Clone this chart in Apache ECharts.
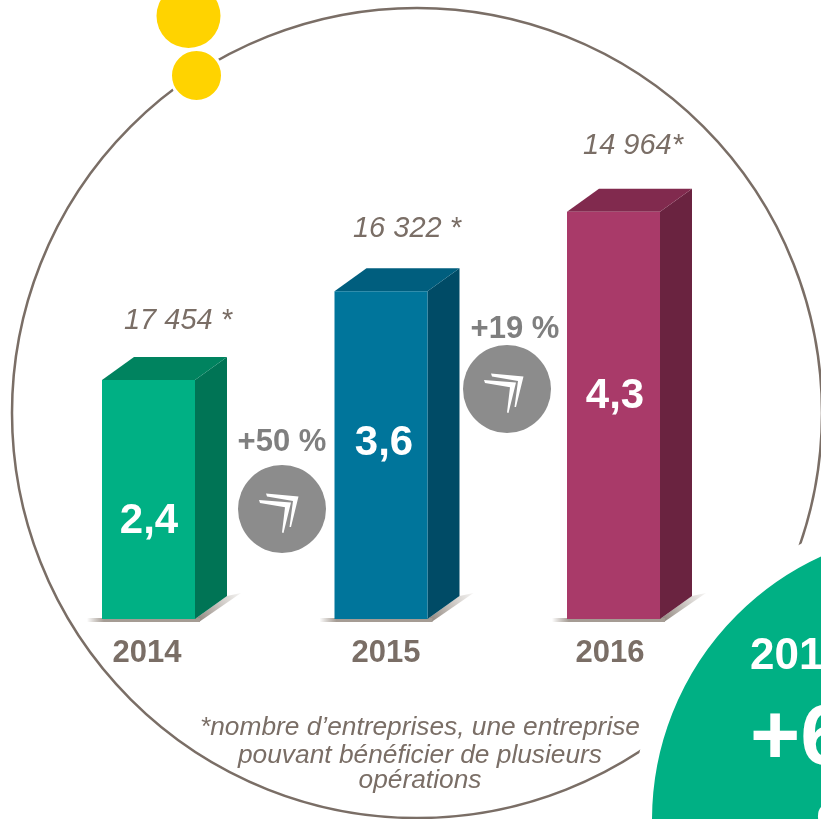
<!DOCTYPE html>
<html>
<head>
<meta charset="utf-8">
<title>Entreprises 2014-2016</title>
<style>
html, body { margin: 0; padding: 0; background: #fff; }
#main { width: 821px; height: 819px; overflow: hidden; }
</style>
<script src="https://cdn.jsdelivr.net/npm/echarts@6/dist/echarts.min.js"></script>
</head>
<body>
<div id="main"></div>
<script>
var myChart = echarts.init(document.getElementById('main'));

var years = ['2014', '2015', '2016'];
// printed values on the bars
var printedValues = ['2,4', '3,6', '4,3'];
// heights as drawn: the source bars are not quite proportional to the printed values
var barHeights = [2.4, 3.29, 4.09];
var companyCounts = ['17 454 *', '16 322 *', '14 964*'];
var growthLabels = ['+50 %', '+19 %'];
var footnote = ['*nombre d\u2019entreprises, une entreprise', 'pouvant bénéficier de plusieurs', 'opérations'];

var frontColors = ['#00B084', '#00759B', '#A93A69'];
var topColors = ['#00835F', '#005E7E', '#812A4E'];
var sideColors = ['#007455', '#004B66', '#6A2340'];

// layout of the annotations
var FONT = '"Liberation Sans", Arial, sans-serif';
var TEXT_BROWN = '#7A6E66';
var barLabelPos = [[149, 533], [384, 455], [615, 408]];
var countLabelPos = [[178, 329], [407, 237], [633, 154]];
var growthLabelPos = [[282, 451], [515, 338]];
var bubblePos = [[282, 509], [507, 389]];

// y is the text baseline; canvas 'middle' sits about 0.27em above it
function textEl(x, y, text, size, style, fill, align) {
    return {
        type: 'text',
        z: 20,
        style: {
            x: x, y: y - size * 0.27, text: text,
            font: style + ' ' + size + 'px ' + FONT, fill: fill,
            align: align || 'center', verticalAlign: 'middle'
        }
    };
}

function bubble(p) {
    // two tapered chevrons, offsets from the centre of the disc
    var back = [[-16, -15.5], [16.5, -12.5], [9, 18], [7.5, 18], [11, -8], [-15, -12.5]];
    var front = [[-23, -9], [9, -6.5], [1.5, 24], [0, 23.5], [3, -1.7], [-22, -6]];
    var shift = function (pts) {
        return pts.map(function (q) { return [q[0] + p[0], q[1] + p[1]]; });
    };
    return [
        {type: 'circle', z: 5, shape: {cx: p[0], cy: p[1], r: 44}, style: {fill: '#8C8C8C'}},
        {type: 'polygon', z: 6, shape: {points: shift(back)}, style: {fill: '#fff'}},
        {type: 'polygon', z: 7, shape: {points: shift(front)}, style: {fill: '#fff'}}
    ];
}

var graphics = [
    // big ring and yellow dots
    {type: 'circle', z: 0, shape: {cx: 417, cy: 413, r: 405}, style: {fill: 'transparent', stroke: TEXT_BROWN, lineWidth: 2.5}},
    {type: 'circle', z: 1, shape: {cx: 188.5, cy: 16, r: 32}, style: {fill: '#FFD300'}},
    {type: 'circle', z: 1, shape: {cx: 196.5, cy: 75.5, r: 26}, style: {fill: '#FFD300', stroke: '#fff', lineWidth: 3}},
    // green disc, bottom right, with a white halo cutting the ring
    {type: 'circle', z: 10, shape: {cx: 942, cy: 820, r: 300}, style: {fill: '#00B084', stroke: '#fff', lineWidth: 20}},
    textEl(750, 669, '201', 44, 'bold', '#fff', 'left'),
    textEl(750, 764, '+6', 86, 'bold', '#fff', 'left'),
    textEl(816, 830, 'o', 50, 'bold', '#fff', 'left')
];

barLabelPos.forEach(function (p, i) {
    graphics.push(textEl(p[0], p[1], printedValues[i], 42, 'bold', '#fff'));
});
countLabelPos.forEach(function (p, i) {
    graphics.push(textEl(p[0], p[1], companyCounts[i], 29, 'italic', TEXT_BROWN));
});
growthLabelPos.forEach(function (p, i) {
    graphics.push(textEl(p[0], p[1], growthLabels[i], 31, 'bold', '#7F7F7F'));
});
bubblePos.forEach(function (p) {
    graphics = graphics.concat(bubble(p));
});
footnote.forEach(function (line, i) {
    graphics.push(textEl(420, [735, 763, 788][i], line, 26.3, 'italic', TEXT_BROWN));
});

function renderBar(params, api) {
    var i = api.value(0);
    var top = api.coord([i, api.value(1)]);
    var base = api.coord([i, 0]);
    var w = api.size([1, 0])[0] * 0.4;
    var l = top[0] - w / 2, r = top[0] + w / 2;
    var dx = 32, dy = 23;
    return {
        type: 'group',
        children: [
            // floor shadow
            {
                type: 'polygon',
                shape: {points: [[r, base[1]], [r + dx, base[1] - dy], [r + dx + 14, base[1] - dy - 3], [r + 4, base[1] + 3]]},
                style: {fill: new echarts.graphic.LinearGradient(0, 1, 1, 0, [
                    {offset: 0, color: '#8A8078'}, {offset: 1, color: 'rgba(160,150,140,0.1)'}
                ])}
            },
            {
                type: 'rect',
                shape: {x: l - 15, y: base[1] - 1, width: w + 20, height: 4},
                style: {fill: new echarts.graphic.LinearGradient(0, 0, 1, 0, [
                    {offset: 0, color: 'rgba(150,140,130,0)'}, {offset: 0.15, color: '#A59C94'}, {offset: 1, color: '#A59C94'}
                ])}
            },
            {
                type: 'polygon',
                shape: {points: [[r, top[1]], [r + dx, top[1] - dy], [r + dx, base[1] - dy], [r, base[1]]]},
                style: {fill: sideColors[i]}
            },
            {
                type: 'polygon',
                shape: {points: [[l, top[1]], [l + dx, top[1] - dy], [r + dx, top[1] - dy], [r, top[1]]]},
                style: {fill: topColors[i]}
            },
            {
                type: 'rect',
                shape: {x: l, y: top[1], width: w, height: base[1] - top[1]},
                style: {fill: frontColors[i]}
            }
        ]
    };
}

var yearLabel = {fontWeight: 'bold', fontSize: 31, fontFamily: FONT, color: TEXT_BROWN};

var option = {
    animation: false,
    backgroundColor: '#fff',
    grid: {left: 32.25, right: 91.25, top: 21.4, bottom: 200},
    xAxis: {
        type: 'category',
        data: years,
        axisLine: {show: false},
        axisTick: {show: false},
        axisLabel: {
            margin: 19,
            formatter: function (v, i) { return '{y' + i + '|' + v + '}'; },
            rich: {
                // source labels are not centred exactly under the bars
                y0: Object.assign({padding: [0, 3, 0, 0]}, yearLabel),
                y1: Object.assign({padding: [0, 0, 0, 10]}, yearLabel),
                y2: Object.assign({padding: [0, 7, 0, 0]}, yearLabel)
            }
        }
    },
    yAxis: {type: 'value', min: 0, max: 6, show: false},
    graphic: {elements: graphics},
    series: [{
        type: 'custom',
        renderItem: renderBar,
        encode: {x: 0, y: 1},
        data: barHeights.map(function (h, i) { return [i, h]; }),
        clip: false,
        z: 3
    }]
};

myChart.setOption(option);
</script>
</body>
</html>
